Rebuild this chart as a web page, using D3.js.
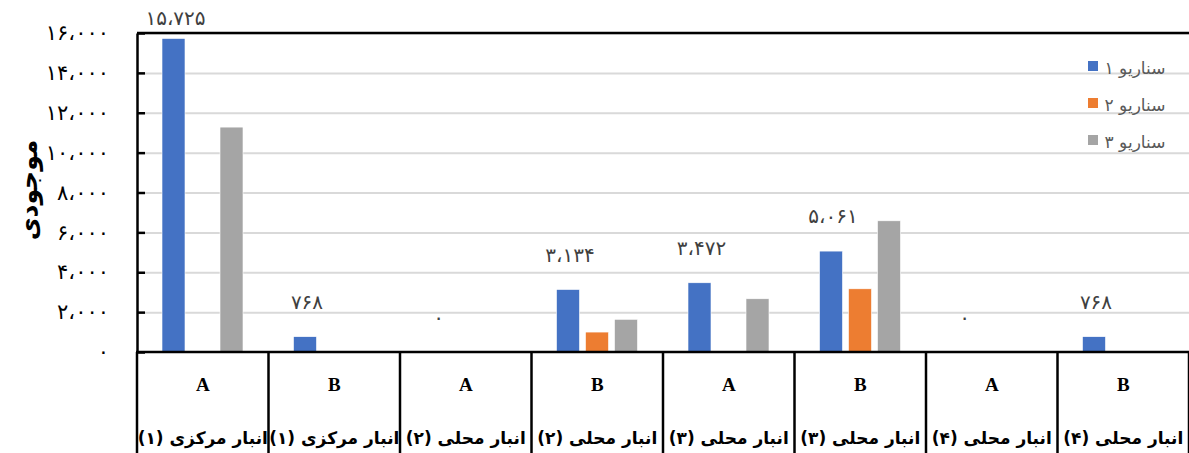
<!DOCTYPE html>
<html><head><meta charset="utf-8">
<script src="https://cdn.jsdelivr.net/npm/d3@7/dist/d3.min.js"></script>
<style>
html,body{margin:0;padding:0;background:#fff;}
svg{display:block;}
</style></head>
<body>
<svg id="chart" width="1189" height="453"></svg>
<script>
// ---- data ----
const groupCodes = ["A","B","A","B","A","B","A","B"];
const groupNames = ["انبار مرکزی (۱)","انبار مرکزی (۱)","انبار محلی (۲)","انبار محلی (۲)","انبار محلی (۳)","انبار محلی (۳)","انبار محلی (۴)","انبار محلی (۴)"];
const seriesNames = ["سناریو ۱","سناریو ۲","سناریو ۳"];
const scenario1 = [15725, 768, 0, 3134, 3472, 5061, 0, 768];
const scenario2 = [0, 0, 0, 1000, 0, 3170, 0, 0];
const scenario3 = [11280, 0, 0, 1640, 2670, 6580, 0, 0];
const yTicks = [0, 2000, 4000, 6000, 8000, 10000, 12000, 14000, 16000];
const yTitle = "موجودی";
const colors = ["#4472C4","#ED7D31","#A5A5A5"];

const series = [scenario1, scenario2, scenario3];

function fa(n){
  const s = d3.format(",")(n).replace(/,/g,"،");
  return s.replace(/[0-9]/g, d => "۰۱۲۳۴۵۶۷۸۹"[+d]);
}

const svg = d3.select("#chart");
const pL = 137, pR = 137 + 8*131.5, pT = 33, pB = 352, H = 453;

const x = d3.scaleBand().domain(d3.range(8)).range([pL, pR]).paddingInner(0).paddingOuter(0);
const xs = d3.scaleBand().domain(d3.range(3)).range([25, 25 + 3*29 - 6]).paddingInner(6/29).paddingOuter(0);
const y = d3.scaleLinear().domain([0,16000]).range([pB, pT]);

// gridlines
svg.append("g").attr("transform", `translate(${pL},0)`)
  .call(d3.axisLeft(y).tickValues(yTicks.slice(1)).tickSize(-(pR-pL)).tickFormat(""))
  .call(g => g.select(".domain").remove())
  .call(g => g.selectAll("line").attr("stroke","#d9d9d9").attr("stroke-width",2));

// bars
series.forEach((vals, si) => {
  svg.append("g").selectAll("rect").data(vals).join("rect")
    .attr("x", (d,i) => x(i) + xs(si))
    .attr("width", xs.bandwidth())
    .attr("y", d => y(d))
    .attr("height", d => pB - y(d))
    .attr("fill", colors[si])
    .attr("stroke", "#ffffff").attr("stroke-width", 0.6);
});

// data labels (scenario 1)
svg.append("g").selectAll("text").data(scenario1).join("text")
  .attr("x", (d,i) => x(i) + xs(0) + xs.bandwidth()/2 + 2)
  .attr("y", d => Math.max(y(d) - 28, 25))
  .attr("text-anchor","middle")
  .attr("font-family","DejaVu Sans")
  .attr("font-size",20)
  .attr("fill","#404040")
  .text(d => fa(d));

// y axis
const yAxis = svg.append("g").attr("transform", `translate(${pL},0)`)
  .call(d3.axisLeft(y).tickValues(yTicks).tickSizeInner(-8).tickSizeOuter(0).tickPadding(28).tickFormat(fa));
yAxis.select(".domain").attr("stroke","#000").attr("stroke-width",2.5);
yAxis.selectAll(".tick line").attr("stroke","#000").attr("stroke-width",2.5);
yAxis.selectAll(".tick text").attr("font-family","DejaVu Sans").attr("font-size",21).attr("fill","#000").attr("letter-spacing",0.8);

// top border
svg.append("line").attr("x1",pL).attr("x2",pR).attr("y1",pT).attr("y2",pT)
  .attr("stroke","#000").attr("stroke-width",2.5);

// category table
svg.append("line").attr("x1",pL-1).attr("x2",pR).attr("y1",pB).attr("y2",pB)
  .attr("stroke","#000").attr("stroke-width",2.5);
const bounds = d3.range(9).map(i => i < 8 ? x(i) : pR);
svg.append("g").selectAll("line").data(bounds).join("line")
  .attr("x1", d => d).attr("x2", d => d).attr("y1", pB).attr("y2", H)
  .attr("stroke","#000").attr("stroke-width",2.5);

svg.append("g").selectAll("text").data(groupCodes).join("text")
  .attr("x", (d,i) => x(i) + x.bandwidth()/2)
  .attr("y", 391)
  .attr("text-anchor","middle")
  .attr("font-family","Liberation Serif")
  .attr("font-weight","bold")
  .attr("font-size",19)
  .attr("fill","#000")
  .text(d => d);

svg.append("g").selectAll("text").data(groupNames).join("text")
  .attr("x", (d,i) => x(i) + x.bandwidth()/2)
  .attr("y", 444)
  .attr("direction","rtl")
  .attr("text-anchor","middle")
  .attr("font-family","DejaVu Sans")
  .attr("font-weight","bold")
  .attr("font-size",17)
  .attr("fill","#000")
  .text(d => d);

// y title
svg.append("text")
  .attr("transform","translate(37,190) rotate(-90)")
  .attr("direction","rtl")
  .attr("text-anchor","middle")
  .attr("font-family","DejaVu Sans")
  .attr("font-weight","bold")
  .attr("font-size",25)
  .attr("fill","#000")
  .text(yTitle);

// legend
const lg = svg.append("g").selectAll("g").data(seriesNames).join("g")
  .attr("transform", (d,i) => `translate(1088,${61 + i*37})`);
lg.append("rect").attr("width",10).attr("height",10).attr("fill",(d,i)=>colors[i]);
lg.append("text")
  .attr("x", 47).attr("y", 13)
  .attr("direction","rtl")
  .attr("text-anchor","middle")
  .attr("font-family","DejaVu Sans")
  .attr("font-size",17)
  .attr("fill","#595959")
  .text(d => d);
</script>
</body></html>
